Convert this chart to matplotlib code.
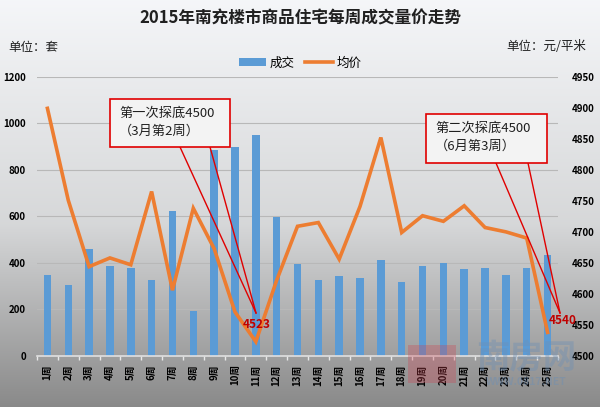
import numpy as np
import matplotlib
matplotlib.use("Agg")
import matplotlib.pyplot as plt
from matplotlib.patches import Rectangle, Patch
from matplotlib.lines import Line2D

plt.rcParams['font.family'] = ['Noto Sans CJK SC', 'DejaVu Sans']

weeks = [f"{i}周" for i in range(1, 26)]
volume = [347, 303, 461, 386, 376, 326, 621, 193, 887, 896, 951, 598, 395,
          326, 343, 336, 411, 319, 386, 401, 373, 380, 346, 380, 433]
price = [4899, 4751, 4644, 4658, 4647, 4765, 4606, 4738, 4673, 4571, 4523, 4622, 4709,
         4715, 4656, 4741, 4852, 4699, 4726, 4717, 4742, 4707, 4700, 4690, 4538]
left_ticks = [0, 200, 400, 600, 800, 1000, 1200]
right_ticks = [4500, 4550, 4600, 4650, 4700, 4750, 4800, 4850, 4900, 4950]

W, H = 600, 407
fig = plt.figure(figsize=(6.0, 4.07), dpi=100)

def fx(px):
    return px / W

def fy(py):
    return 1 - py / H

# background gradient
bg = fig.add_axes([0, 0, 1, 1], zorder=-10)
grad = np.linspace(0, 1, 256).reshape(-1, 1)
top = np.array([0.96, 0.965, 0.975])
mid = np.array([0.84, 0.845, 0.85])
bot = np.array([0.54, 0.54, 0.54])
cols = np.where(grad[..., None] < 0.55,
                top + (mid - top) * (grad[..., None] / 0.55),
                mid + (bot - mid) * ((grad[..., None] - 0.55) / 0.45))
bg.imshow(cols, aspect='auto', extent=[0, 1, 0, 1], origin='upper')
bg.set_axis_off()

ax = fig.add_axes([fx(37), fy(356), fx(558) - fx(37), fy(76.7) - fy(356)])
ax.patch.set_alpha(0)
x = np.arange(len(weeks))
ax.bar(x, volume, width=0.36, color='#5b9bd5', zorder=2)
ax.set_xlim(-0.5, len(weeks) - 0.5)
ax.set_ylim(0, 1200)
ax.set_yticks(left_ticks)
ax.set_yticklabels([str(t) for t in left_ticks], fontsize=7, fontweight='bold')
for t in left_ticks[1:]:
    ax.axhline(t, color='#b8b8b8', lw=0.8, zorder=1)
ax.tick_params(axis='y', length=0, pad=8)
ax.set_xticks(x)
ax.set_xticklabels(weeks, rotation=90, fontsize=7, fontweight='bold', va='top')
ax.set_xticks(np.arange(-0.5, len(weeks), 1), minor=True)
ax.tick_params(axis='x', which='major', length=0, pad=6)
ax.tick_params(axis='x', which='minor', length=3, color='#e8e8e8', width=1)
for s in ['top', 'right', 'left']:
    ax.spines[s].set_visible(False)
ax.spines['bottom'].set_color('#e0e0e0')
ax.spines['bottom'].set_linewidth(1.2)

ax2 = ax.twinx()
ax2.plot(x, price, color='#ed7d31', lw=2.6, zorder=3, solid_joinstyle='miter')
ax2.set_ylim(4500, 4950)
ax2.set_yticks(right_ticks)
ax2.set_yticklabels([str(t) for t in right_ticks], fontsize=7, fontweight='bold')
ax2.tick_params(axis='y', length=0, pad=10)
for s in ['top', 'right', 'left', 'bottom']:
    ax2.spines[s].set_visible(False)

# callouts
def callout(box, base1, base2, tip_px, text):
    x0, y0, x1, y1 = box
    fig.patches.append(Rectangle((fx(x0), fy(y1)), fx(x1) - fx(x0), fy(y0) - fy(y1),
                                 transform=fig.transFigure, facecolor='#f3f3f3',
                                 edgecolor='#e00000', lw=1.2, zorder=5))
    for bx in (base1, base2):
        fig.add_artist(Line2D([fx(bx), fx(tip_px[0])], [fy(y1), fy(tip_px[1])],
                              transform=fig.transFigure, color='#e00000', lw=1.0, zorder=5))
    fig.text(fx(x0 + 9), fy((y0 + y1) / 2 - 1), text, fontsize=9.5, va='center', ha='left',
             linespacing=1.5, zorder=6, color='#202020',
             family=['Noto Sans CJK SC', 'DejaVu Sans'])

callout((110, 99, 230, 147), 180, 210, (256, 313), "第一次探底4500\n（3月第2周）")
callout((426, 114, 547, 163), 496, 528, (560, 313), "第二次探底4500\n（6月第3周）")

fig.text(fx(257), fy(325), "4523", color='#c00000', fontsize=8.5, fontweight='bold',
         ha='center', va='center', zorder=7)
fig.text(fx(563), fy(320), "4540", color='#c00000', fontsize=8.5, fontweight='bold',
         ha='center', va='center', zorder=7)

# titles and units
fig.text(0.5, fy(18), "2015年南充楼市商品住宅每周成交量价走势", fontsize=12,
         fontweight='bold', ha='center', va='center', color='#202020')
fig.text(fx(8), fy(47), "单位：套", fontsize=9, ha='left', va='center', color='#202020')
fig.text(fx(586), fy(47), "单位：元/平米", fontsize=9, ha='right', va='center', color='#202020')

handles = [Patch(facecolor='#5b9bd5', edgecolor='none'),
           Line2D([0], [0], color='#ed7d31', lw=2.6)]
fig.legend(handles, ['成交', '均价'], loc='center', bbox_to_anchor=(0.5, fy(63)),
           ncol=2, frameon=False, fontsize=9, handlelength=2.2, handleheight=0.6,
           columnspacing=0.8, handletextpad=0.3)

# watermark (faint, as in the reference)
fig.patches.append(Rectangle((fx(408), fy(383)), fx(48), fy(345) - fy(383),
                             transform=fig.transFigure, facecolor='#d04050',
                             alpha=0.3, edgecolor='none', zorder=8))
fig.text(fx(526), fy(358), "南房网", fontsize=24, color='#6d8fb5', alpha=0.4,
         ha='center', va='center', fontweight='bold', zorder=8)
fig.text(fx(526), fy(382), "WWW.0817.NET", fontsize=7.5, color='#6d8fb5', alpha=0.45,
         ha='center', va='center', fontweight='bold', zorder=8)

fig.savefig("out.png", dpi=100)
